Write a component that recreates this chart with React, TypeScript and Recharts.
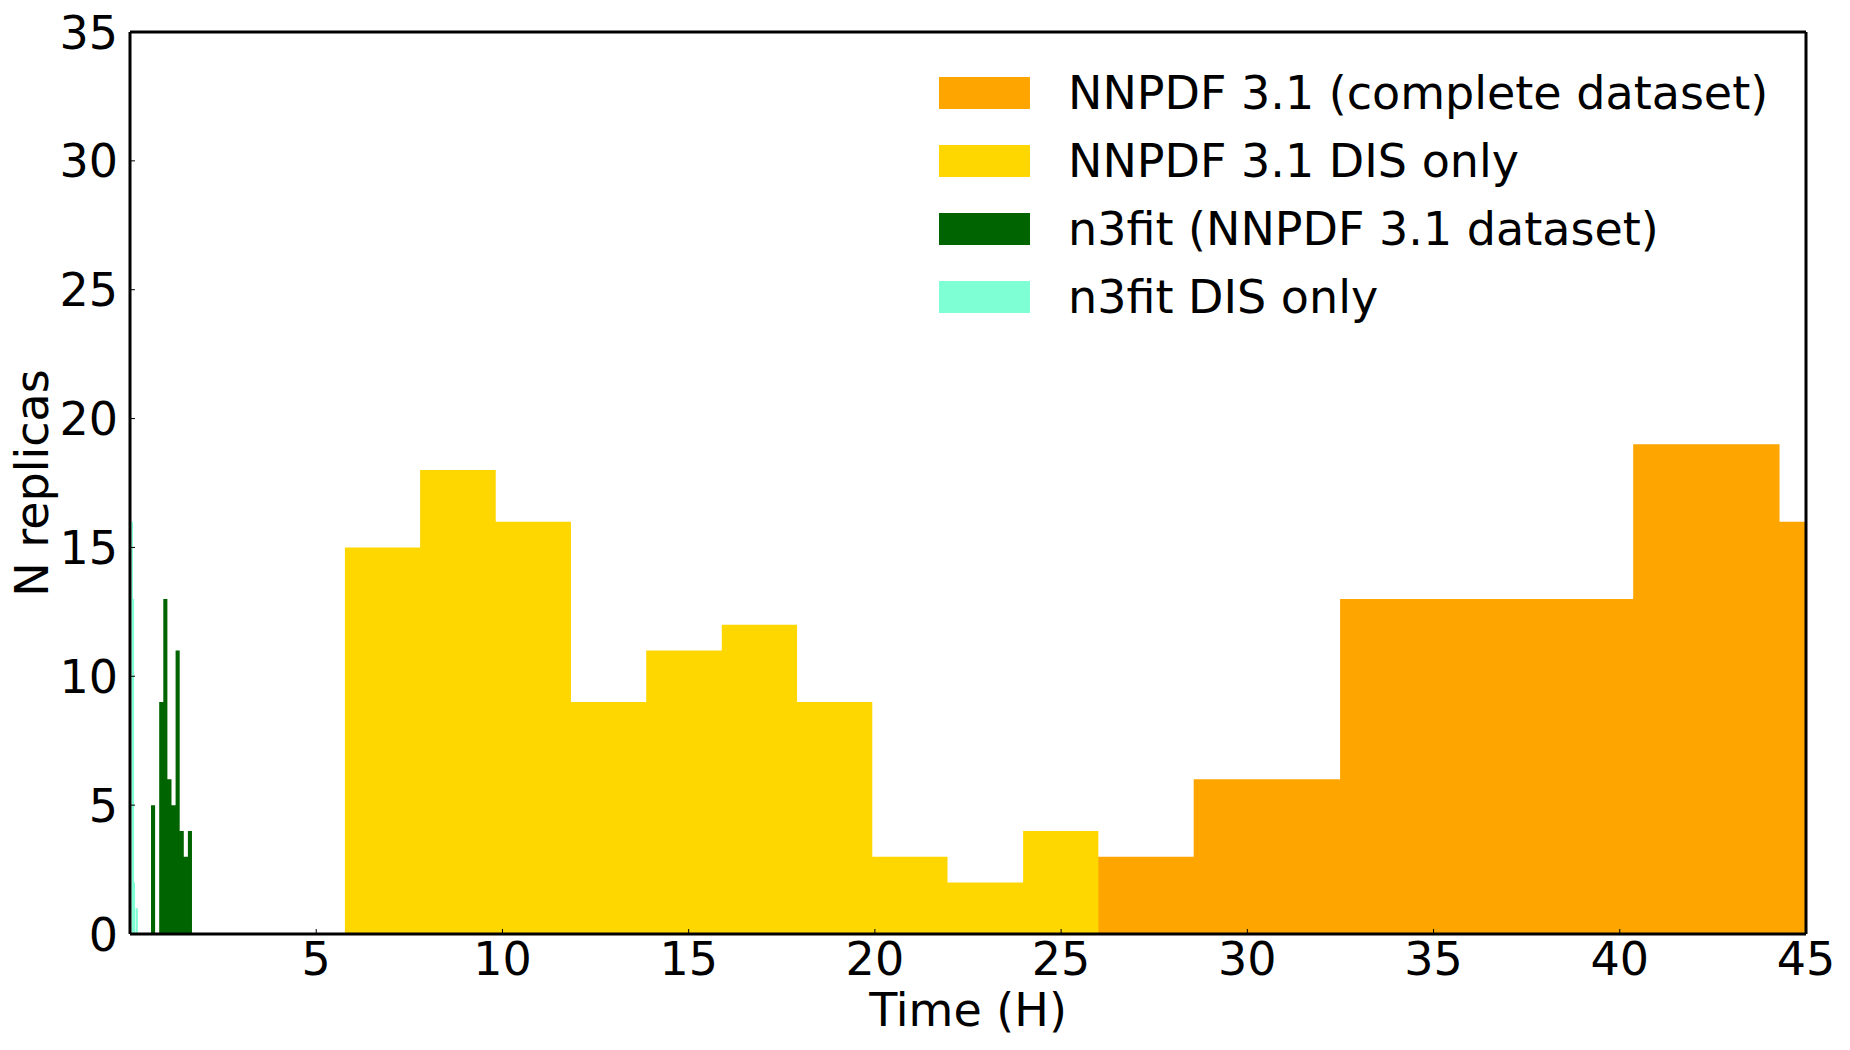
import React from 'react';
import { ComposedChart, Area, XAxis, YAxis, Legend, ReferenceLine } from 'recharts';

// bin edges (hours) and replica counts
const orangeEdges = [24.63, 28.56, 32.49, 36.42, 40.36, 44.29, 48.22];
const orangeCounts = [3, 6, 13, 13, 19, 16];

const yellowEdges = [5.77, 7.79, 9.82, 11.84, 13.86, 15.89, 17.91, 19.93, 21.95, 23.98, 26.0];
const yellowCounts = [15, 18, 16, 9, 11, 12, 9, 3, 2, 4];

const greenEdges = [0.564, 0.674, 0.784, 0.894, 1.004, 1.114, 1.224, 1.334, 1.444, 1.554, 1.664];
const greenCounts = [5, 0, 9, 13, 6, 5, 11, 4, 3, 4];

const cyanEdges = [0.045, 0.08, 0.11, 0.135, 0.15, 0.21];
const cyanCounts = [16, 13, 2, 0, 1];

const xTicks = [5, 10, 15, 20, 25, 30, 35, 40, 45];
const yTicks = [0, 5, 10, 15, 20, 25, 30, 35];

const seriesNames = [
  'NNPDF 3.1 (complete dataset)',
  'NNPDF 3.1 DIS only',
  'n3fit (NNPDF 3.1 dataset)',
  'n3fit DIS only',
];
const seriesKeys = ['orange', 'yellow', 'green', 'cyan'];
const seriesColors = ['#FFA500', '#FFD700', '#006400', '#7FFFD4'];

const FONT = "'DejaVu Sans', sans-serif";
const X_MAX = 45;
const Y_MAX = 35;

const valueAt = (edges: number[], counts: number[], x: number) => {
  for (let i = 0; i < counts.length; i++) {
    if (x >= edges[i] && x < edges[i + 1]) return counts[i];
  }
  return 0;
};

const allX = Array.from(
  new Set([0, X_MAX, ...orangeEdges, ...yellowEdges, ...greenEdges, ...cyanEdges].filter((v) => v <= X_MAX))
).sort((a, b) => a - b);

const chartData = allX.map((x) => ({
  x,
  orange: valueAt(orangeEdges, orangeCounts, x),
  yellow: valueAt(yellowEdges, yellowCounts, x),
  green: valueAt(greenEdges, greenCounts, x),
  cyan: valueAt(cyanEdges, cyanCounts, x),
}));

const XTick = (props: any) => {
  const { x, y, payload } = props;
  return (
    <g>
      <line x1={x} y1={y} x2={x} y2={y - 5} stroke="#000" strokeWidth={1} />
      <text x={x} y={y + 41} textAnchor="middle" fontSize={46} fontFamily={FONT} fill="#000">
        {payload.value}
      </text>
    </g>
  );
};

const YTick = (props: any) => {
  const { x, y, payload } = props;
  return (
    <g>
      <line x1={x} y1={y} x2={x + 5} y2={y} stroke="#000" strokeWidth={1} />
      <text x={x - 12} y={y + 16.5} textAnchor="end" fontSize={46} fontFamily={FONT} fill="#000">
        {payload.value}
      </text>
    </g>
  );
};

const renderLegend = () => (
  <div style={{ fontFamily: FONT, fontSize: 46, color: '#000' }}>
    {seriesNames.map((name, i) => (
      <div key={name} style={{ display: 'flex', alignItems: 'center', height: 68, whiteSpace: 'nowrap' }}>
        <div style={{ width: 91, height: 32, background: seriesColors[i], marginRight: 38, flexShrink: 0 }} />
        <span>{name}</span>
      </div>
    ))}
  </div>
);

export default function App() {
  return (
    <div style={{ position: 'absolute', left: 0, top: 0, background: '#fff' }}>
      <ComposedChart width={1850} height={1050} data={chartData} margin={{ top: 32, right: 44, bottom: 0, left: 0 }}>
        <XAxis
          dataKey="x"
          type="number"
          domain={[0, X_MAX]}
          ticks={xTicks}
          allowDataOverflow
          height={116}
          tickSize={0}
          tickMargin={0}
          tickLine={false}
          tick={<XTick />}
          axisLine={false}
          label={{
            content: (p: any) => {
              const vb = p.viewBox;
              return (
                <text x={vb.x + vb.width / 2} y={vb.y + 92} textAnchor="middle" fontSize={46} fontFamily={FONT} fill="#000">
                  Time (H)
                </text>
              );
            },
          }}
        />
        <YAxis
          type="number"
          domain={[0, Y_MAX]}
          ticks={yTicks}
          width={130}
          tickSize={0}
          tickMargin={0}
          tickLine={false}
          tick={<YTick />}
          axisLine={false}
          label={{
            content: (p: any) => {
              const vb = p.viewBox;
              const cx = vb.x + 48;
              const cy = vb.y + vb.height / 2;
              return (
                <text x={cx} y={cy} transform={`rotate(-90 ${cx} ${cy})`} textAnchor="middle" fontSize={46} fontFamily={FONT} fill="#000">
                  N replicas
                </text>
              );
            },
          }}
        />
        {seriesKeys.map((key, i) => (
          <Area
            key={key}
            dataKey={key}
            name={seriesNames[i]}
            type="stepAfter"
            fill={seriesColors[i]}
            fillOpacity={1}
            stroke="none"
            dot={false}
            activeDot={false}
            isAnimationActive={false}
          />
        ))}
        {/* axes frame */}
        <ReferenceLine x={0} stroke="#000" strokeWidth={3} ifOverflow="extendDomain" />
        <ReferenceLine x={X_MAX} stroke="#000" strokeWidth={3} ifOverflow="extendDomain" />
        <ReferenceLine y={0} stroke="#000" strokeWidth={3} ifOverflow="extendDomain" />
        <ReferenceLine y={Y_MAX} stroke="#000" strokeWidth={3} ifOverflow="extendDomain" />
        <Legend
          layout="vertical"
          align="center"
          verticalAlign="middle"
          content={renderLegend}
          wrapperStyle={{ top: 59, left: 939, width: 880 }}
        />
      </ComposedChart>
    </div>
  );
}
